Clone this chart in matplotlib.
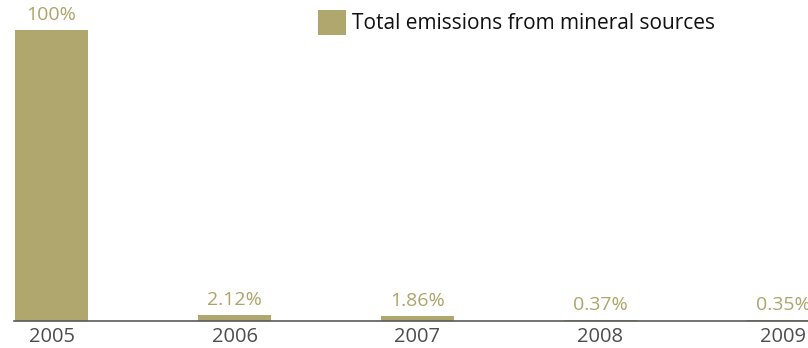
import matplotlib.pyplot as plt

years = ['2005', '2006', '2007', '2008', '2009']
shares = [100, 2.12, 1.86, 0.37, 0.35]
value_labels = ['100%', '2.12%', '1.86%', '0.37%', '0.35%']
series_name = 'Total emissions from mineral sources'

bar_color = '#afa76e'
label_color = '#aca46a'

plt.rcParams['font.family'] = ['Open Sans', 'DejaVu Sans']

W, H = 808, 348
fig = plt.figure(figsize=(W / 100, H / 100), dpi=100)
# axes run off the right edge, so the last bar is cut
ax = fig.add_axes([14 / W, 27 / H, (808 - 14) / W, 291 / H])

x = range(len(years))
bars = ax.bar(x, shares, width=0.4, color=bar_color, label=series_name)

for rect, lab in zip(bars, value_labels):
    ax.annotate(lab, (rect.get_x() + rect.get_width() / 2, rect.get_height()),
                xytext=(0, 4), textcoords='offset points',
                ha='center', va='bottom', fontsize=14, color=label_color)

ax.set_xlim(-0.205, 4.134)
ax.set_ylim(0, 100)
ax.set_xticks(list(x))
ax.set_xticklabels(years, fontsize=14.5, color='#4d4d4d')
ax.tick_params(axis='x', length=0, pad=4)
ax.set_yticks([])
for side in ['top', 'right', 'left']:
    ax.spines[side].set_visible(False)
ax.spines['bottom'].set_color('#5a5a5a')
ax.spines['bottom'].set_linewidth(1.2)

leg = fig.legend(loc='upper left', bbox_to_anchor=(314 / W, 1 - 6 / H),
                 frameon=False, fontsize=15, handlelength=1.35, handleheight=1.45,
                 handletextpad=0.25, borderaxespad=0, borderpad=0.2)
for t in leg.get_texts():
    t.set_color('#111111')

fig.savefig('out.png', dpi=100)
